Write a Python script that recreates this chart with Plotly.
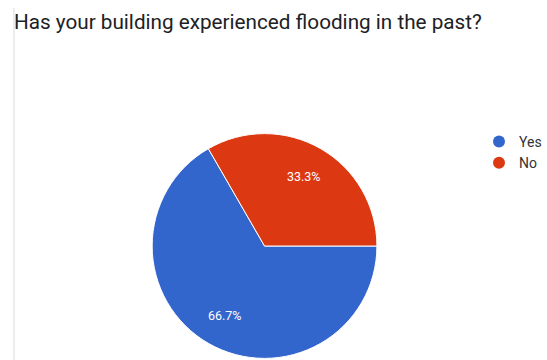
import math
import plotly.graph_objects as go

# Survey responses
categories = ["Yes", "No"]
counts = [2, 1]
colors = ["#3366CC", "#DC3912"]
title_text = "Has your building experienced flooding in the past?"

W, H = 547, 360

# Pie placement (pixels)
CX, CY, R = 266.0, 246.0, 113.0
START_DEG = 90  # first slice starts at 3 o'clock, going clockwise
LABEL_FRAC = 0.71

fig = go.Figure()

fig.add_trace(go.Pie(
    labels=categories,
    values=counts,
    sort=False,
    direction="clockwise",
    rotation=START_DEG,
    marker=dict(colors=colors, line=dict(color="white", width=1)),
    textinfo="none",
    hoverinfo="label+percent",
    showlegend=False,
    domain=dict(x=[(CX - R) / W, (CX + R) / W], y=[1 - (CY + R) / H, 1 - (CY - R) / H]),
))

# Percent labels placed along each slice's bisector
total = sum(counts)
annotations = []
cum = 0.0
for v in counts:
    frac = v / total
    mid = math.radians(START_DEG + 360 * (cum + frac / 2))
    cum += frac
    px = CX + LABEL_FRAC * R * math.sin(mid)
    py = CY - LABEL_FRAC * R * math.cos(mid)
    annotations.append(dict(
        text=f"{frac * 100:.1f}%", x=px / W, y=1 - py / H,
        xref="paper", yref="paper", xanchor="center", yanchor="middle",
        showarrow=False, font=dict(family="Roboto", size=12.5, color="white"),
    ))

annotations.append(dict(
    text=title_text, x=12 / W, y=1 - 22 / H, xref="paper", yref="paper",
    xanchor="left", yanchor="middle", showarrow=False,
    font=dict(family="Roboto", size=20.7, color="#202124"),
))

# Circular legend markers
for name, col in zip(categories, colors):
    fig.add_trace(go.Scatter(
        x=[None], y=[None], mode="markers", name=name,
        marker=dict(symbol="circle", size=11, color=col),
        showlegend=True,
    ))

fig.update_layout(
    width=W, height=H,
    margin=dict(l=0, r=0, t=0, b=0),
    paper_bgcolor="white",
    plot_bgcolor="white",
    xaxis=dict(visible=False),
    yaxis=dict(visible=False),
    annotations=annotations,
    legend=dict(
        x=482 / W, y=1 - 126 / H, xanchor="left", yanchor="top",
        font=dict(family="Roboto", size=14, color="#333333"),
        bgcolor="rgba(0,0,0,0)", tracegroupgap=0, itemsizing="constant",
    ),
    shapes=[dict(
        type="line", xref="paper", yref="paper",
        x0=14 / W, x1=14 / W, y0=0, y1=1 - 8 / H,
        line=dict(color="#ececec", width=2),
    )],
)

fig.write_html("out.html")
